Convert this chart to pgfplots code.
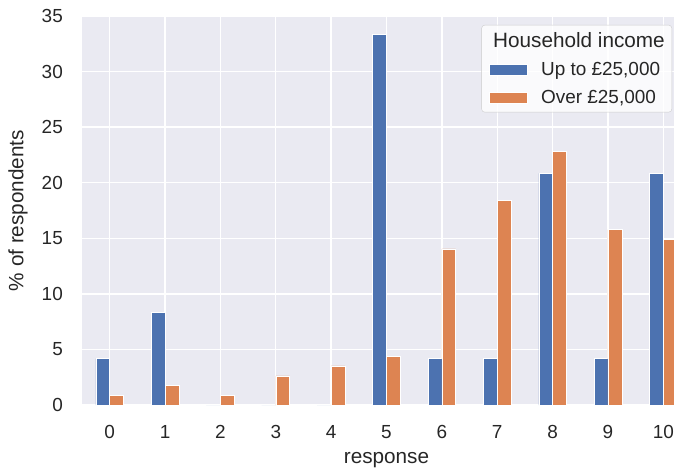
\documentclass[border=0pt]{standalone}
\usepackage{fontspec}
\setmainfont{Liberation Sans}
\usepackage{pgfplots}
\pgfplotsset{compat=1.18}
\definecolor{sbblue}{HTML}{4C72B0}
\definecolor{sborange}{HTML}{DD8452}
\definecolor{sbbg}{HTML}{EAEAF2}
\definecolor{sbtext}{HTML}{262626}
\newcommand{\tickfont}{\fontsize{19}{22}\selectfont}
\newcommand{\labfont}{\fontsize{20.8}{24}\selectfont}
\begin{document}
\begin{tikzpicture}
\begin{axis}[
  at={(0,0)}, anchor=south west,
  scale only axis, width=609bp, height=389bp,
  xmin=-0.5, xmax=10.5, ymin=0, ymax=35,
  ytick={0,5,...,35},
  xtick={0,...,10},
  grid=major, major grid style={white, line width=1.3bp},
  axis background/.style={fill=sbbg},
  axis line style={draw=none},
  major tick length=0pt,
  /pgf/number format/assume math mode=true,
  tick label style={font=\tickfont, text=sbtext, inner sep=0pt},
  yticklabel style={anchor=east, xshift=-19bp},
  xticklabel style={anchor=north, yshift=-20bp},
  xlabel={response}, ylabel={\% of respondents},
  xlabel style={font=\labfont, text=sbtext, at={(rel axis cs:0.5,0)}, anchor=base, yshift=-58bp},
  ylabel style={font=\labfont, text=sbtext, at={(rel axis cs:-0.0887,0.5)}, anchor=south, inner sep=0pt},
  ybar=0pt, bar width=0.25,
  legend style={at={(0.9688,0.9769)}, anchor=north east, fill=white, fill opacity=0.8, text opacity=1,
    draw=black!20, rounded corners=3bp, font=\tickfont, text=sbtext,
    nodes={inner sep=0pt}, column sep=14bp, row sep=13.5bp, inner xsep=7bp, inner ysep=7bp},
  legend cell align=left,
  legend image code/.code={\fill[#1, fill opacity=1, sharp corners] (0bp,-5.5bp) rectangle (38bp,5.5bp);},
]
\addlegendimage{empty legend}
\addlegendentry{\hspace*{-48bp}\labfont Household income}
\addplot[fill=sbblue, draw=white, line width=0.5bp] coordinates {
(0,4.17) (1,8.33) (2,0) (3,0) (4,0) (5,33.33) (6,4.17) (7,4.17) (8,20.83) (9,4.17) (10,20.83)};
\addlegendentry{Up to £25,000}
\addplot[fill=sborange, draw=white, line width=0.5bp] coordinates {
(0,0.88) (1,1.75) (2,0.88) (3,2.63) (4,3.51) (5,4.39) (6,14.04) (7,18.42) (8,22.81) (9,15.79) (10,14.91)};
\addlegendentry{Over £25,000}
\end{axis}
\pgfresetboundingbox
\path[use as bounding box] (-82bp,-63bp) rectangle (592bp,405bp);
\end{tikzpicture}
\end{document}
